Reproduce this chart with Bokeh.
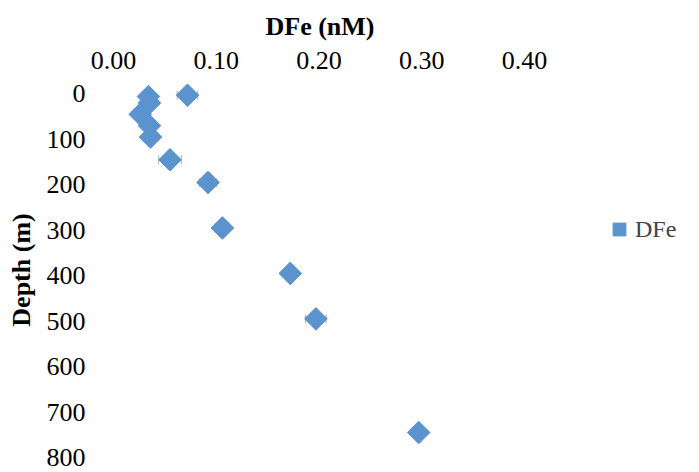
from bokeh.plotting import figure
from bokeh.models import (ColumnDataSource, Range1d, FixedTicker, NumeralTickFormatter,
                          Whisker, TeeHead, Legend, LegendItem)
from bokeh.embed import file_html
from bokeh.resources import INLINE
import math

# ---- data ----
depth_m = [3, 6, 20, 45, 70, 95, 145, 195, 295, 395, 495, 745]
dfe_nM = [0.072, 0.034, 0.035, 0.026, 0.035, 0.036, 0.055, 0.092, 0.106, 0.172, 0.197, 0.297]
dfe_err = [0.010, 0.006, 0.006, 0.006, 0.006, 0.006, 0.011, 0.008, 0.007, 0.006, 0.010, 0.005]
x_ticks = [0.0, 0.1, 0.2, 0.3, 0.4]
y_ticks = [0, 100, 200, 300, 400, 500, 600, 700, 800]

src = ColumnDataSource(dict(
    depth=depth_m, dfe=dfe_nM,
    lo=[v - e for v, e in zip(dfe_nM, dfe_err)],
    hi=[v + e for v, e in zip(dfe_nM, dfe_err)],
))

FONT = "Liberation Serif"
BLUE = "#5B93CF"

p = figure(width=699, height=472, output_backend="svg", toolbar_location=None,
           x_axis_location="above", title="DFe (nM)",
           x_range=Range1d(0, 0.5703), y_range=Range1d(800, -25),
           min_border_left=113, min_border_right=0, min_border_top=82, min_border_bottom=15)
p.outline_line_color = None
p.grid.visible = False
p.background_fill_color = "white"
p.border_fill_color = "white"

p.title.text_font = FONT
p.title.text_font_size = "26px"
p.title.text_font_style = "bold"
p.title.text_color = "black"
p.title.align = "left"
p.title.offset = 152
p.title.vertical_align = "top"
p.title.standoff = 11

p.xaxis.ticker = FixedTicker(ticks=x_ticks)
p.xaxis.formatter = NumeralTickFormatter(format="0.00")
p.yaxis.ticker = FixedTicker(ticks=y_ticks)
for ax in (p.xaxis, p.yaxis):
    ax.axis_line_color = None
    ax.major_tick_line_color = None
    ax.minor_tick_line_color = None
    ax.major_label_text_font = FONT
    ax.major_label_text_font_size = "26px"
    ax.major_label_text_color = "black"
    ax.axis_label_text_font = FONT
    ax.axis_label_text_font_size = "26px"
    ax.axis_label_text_font_style = "bold"
    ax.axis_label_text_color = "black"
p.yaxis.axis_label = "Depth (m)"
p.xaxis.major_label_standoff = 8
p.yaxis.major_label_standoff = 22
p.yaxis.axis_label_standoff = 8

w = Whisker(source=src, base="depth", lower="lo", upper="hi", dimension="width",
            line_color="#AAAAAA", line_width=1,
            lower_head=TeeHead(size=9, line_color="#AAAAAA", line_width=1),
            upper_head=TeeHead(size=9, line_color="#AAAAAA", line_width=1))
p.add_layout(w)

r = p.scatter("dfe", "depth", source=src, marker="square", angle=math.pi / 4,
              size=16, fill_color=BLUE, line_color=BLUE, line_width=1)

legend = Legend(items=[LegendItem(label="DFe", renderers=[r])], location=(490, 212),
                border_line_color=None, background_fill_alpha=0,
                label_text_font=FONT, label_text_font_size="24px",
                glyph_width=32, glyph_height=32, label_standoff=0, padding=2, margin=0)
p.add_layout(legend, "center")

open("out.html", "w").write(file_html(p, INLINE))
